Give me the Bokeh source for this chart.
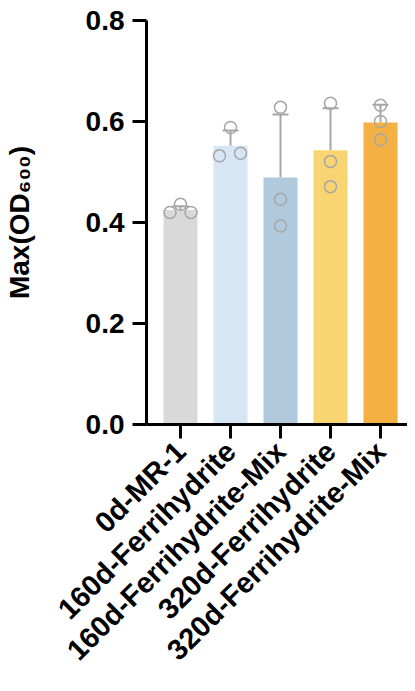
from math import pi
from bokeh.plotting import figure
from bokeh.models import Range1d, FixedTicker, ColumnDataSource, Whisker, TeeHead
from bokeh.embed import file_html
from bokeh.resources import INLINE

categories = ["0d-MR-1", "160d-Ferrihydrite", "160d-Ferrihydrite-Mix",
              "320d-Ferrihydrite", "320d-Ferrihydrite-Mix"]
means = [0.425, 0.552, 0.489, 0.543, 0.598]
sds = [0.007, 0.030, 0.125, 0.083, 0.035]
rep1 = [0.420, 0.532, 0.628, 0.636, 0.632]
rep2 = [0.436, 0.588, 0.446, 0.521, 0.600]
rep3 = [0.420, 0.537, 0.393, 0.471, 0.564]
jitter1 = [-0.21, -0.22, 0.0, 0.0, 0.0]
jitter2 = [0.0, 0.0, 0.0, 0.0, 0.0]
jitter3 = [0.21, 0.2, 0.0, 0.0, 0.0]
colors = ["#D9D9D9", "#D6E6F4", "#B1C9DC", "#F9D572", "#F4B042"]
y_ticks = [0.0, 0.2, 0.4, 0.6, 0.8]

FONT = "Liberation Sans"
GREY = "#A6A6A6"

xs = list(range(len(categories)))
p = figure(width=407, height=683, output_backend="svg", toolbar_location=None,
           x_range=Range1d(-0.68, 4.54), y_range=Range1d(0, 0.8),
           min_border_left=146, min_border_right=0, min_border_top=20,
           min_border_bottom=259)
p.outline_line_color = None
p.grid.visible = False
p.background_fill_color = "white"

bars = ColumnDataSource(dict(x=xs, top=means, color=colors,
                             upper=[m + s for m, s in zip(means, sds)]))
p.vbar(x="x", top="top", width=0.68, bottom=0, fill_color="color",
       line_color=None, source=bars)

w = Whisker(base="x", lower="top", upper="upper", source=bars,
            line_color=GREY, line_width=2,
            upper_head=TeeHead(size=16, line_color=GREY, line_width=2),
            lower_head=None)
p.add_layout(w)

for reps, jit in ((rep1, jitter1), (rep2, jitter2), (rep3, jitter3)):
    p.scatter([x + j for x, j in zip(xs, jit)], reps, marker="circle", size=12,
              fill_color=None, line_color=GREY, line_width=1.5)

for ax in (p.xaxis[0], p.yaxis[0]):
    ax.axis_line_width = 3
    ax.axis_line_color = "black"
    ax.major_tick_line_width = 3
    ax.major_tick_line_color = "black"
    ax.major_tick_out = 14
    ax.major_tick_in = 0
    ax.minor_tick_line_color = None
    ax.major_label_text_font = FONT
    ax.major_label_text_font_style = "bold"
    ax.major_label_text_font_size = "28px"
    ax.major_label_text_color = "black"

p.yaxis.ticker = FixedTicker(ticks=y_ticks)
p.yaxis.major_label_overrides = {t: f"{t:.1f}" for t in y_ticks}
p.yaxis.major_label_standoff = 8
p.yaxis.axis_label = "Max(OD\u2086\u2080\u2080)"
p.yaxis.axis_label_text_font = FONT
p.yaxis.axis_label_text_font_style = "bold"
p.yaxis.axis_label_text_font_size = "28px"
p.yaxis.axis_label_text_color = "black"
p.yaxis.axis_label_standoff = 48

p.xaxis.ticker = FixedTicker(ticks=xs)
p.xaxis.major_label_overrides = {i: c for i, c in zip(xs, categories)}
p.xaxis.major_label_orientation = pi / 4
p.xaxis.major_label_standoff = 8
p.xaxis.major_label_text_font_size = "29px"

open("out.html", "w").write(file_html(p, INLINE))
